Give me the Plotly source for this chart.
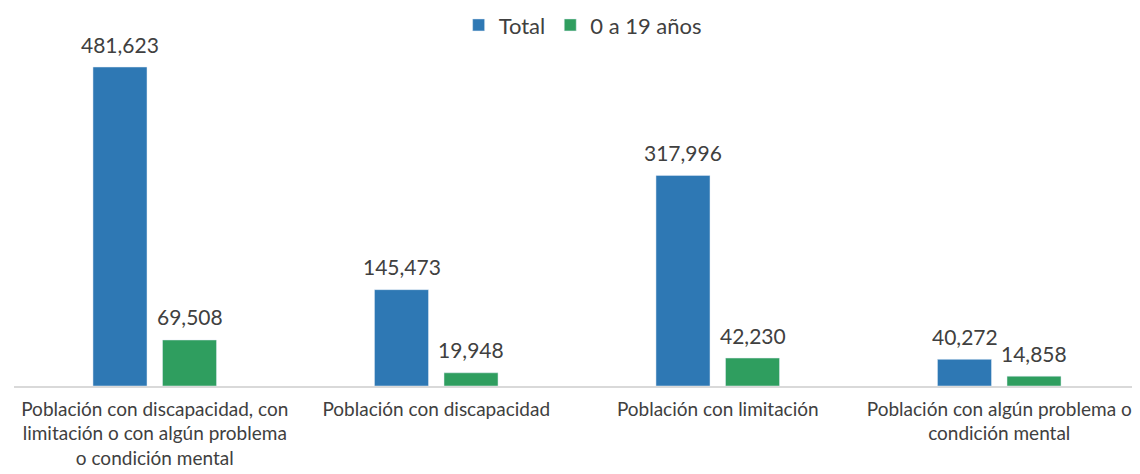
import plotly.graph_objects as go

categories = [
    "Población con discapacidad, con<br>limitación o con algún problema<br>o condición mental",
    "Población con discapacidad",
    "Población con limitación",
    "Población con algún problema o<br>condición mental",
]
total = [481623, 145473, 317996, 40272]
jovenes = [69508, 19948, 42230, 14858]
series_names = ["Total", "0 a 19 años"]

BLUE = "#2E78B4"
GREEN = "#2F9E5F"
FONT = "Lato"
TXT = "#404040"

fig = go.Figure()
fig.add_trace(go.Bar(x=categories, y=total, name=series_names[0], marker=dict(color=BLUE)))
fig.add_trace(go.Bar(x=categories, y=jovenes, name=series_names[1], marker=dict(color=GREEN)))

annotations = []
for vals, shift in ((total, -34.75), (jovenes, 34.75)):
    for c, v in zip(categories, vals):
        annotations.append(dict(
            x=c, y=v, xref="x", yref="y", text=f"{v:,}", showarrow=False,
            xshift=shift, yshift=23, yanchor="middle",
            font=dict(family=FONT, size=21, color=TXT),
        ))

fig.update_layout(
    width=1132, height=466,
    margin=dict(l=6, r=0, t=42, b=88, autoexpand=False),
    paper_bgcolor="white", plot_bgcolor="white",
    barmode="group", bargap=0.506, bargroupgap=0.223,
    font=dict(family=FONT, size=19, color=TXT),
    showlegend=True,
    legend=dict(orientation="h", x=0.505, xanchor="center", y=1.074, yanchor="middle",
                font=dict(family=FONT, size=22, color=TXT), itemwidth=30,
                traceorder="normal", bgcolor="rgba(0,0,0,0)"),
    annotations=annotations,
    xaxis=dict(showgrid=False, showline=True, linecolor="#D9D9D9", linewidth=1.5,
               ticks="outside", ticklen=5, tickcolor="rgba(0,0,0,0)",
               automargin=False, tickfont=dict(family=FONT, size=19, color=TXT),
               range=[-0.5, 3.5], fixedrange=True),
    yaxis=dict(visible=False, range=[0, 507290], showgrid=False, zeroline=False,
               automargin=False),
)

fig.write_html("out.html")
